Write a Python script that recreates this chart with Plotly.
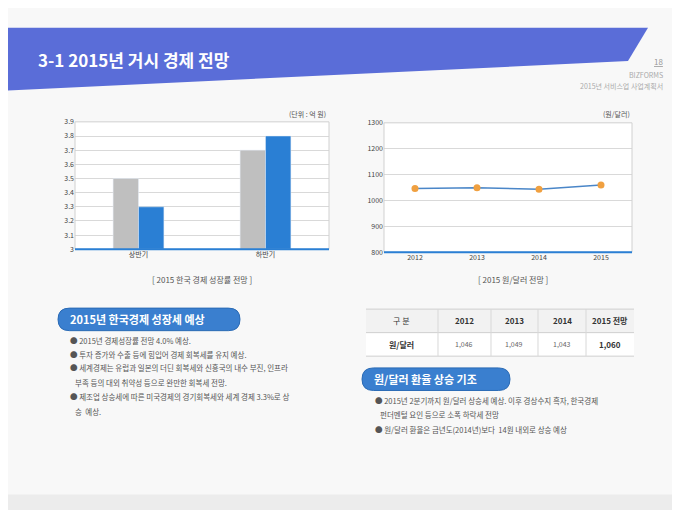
import plotly.graph_objects as go

W, H = 680, 510
FONT = "Noto Sans CJK KR"

halves = ["상반기", "하반기"]
growth_prev = [3.5, 3.7]
growth_new = [3.3, 3.8]

years = ["2012", "2013", "2014", "2015"]
krw_usd = [1046, 1049, 1043, 1060]
table_header = ["구 분", "2012", "2013", "2014", "2015 전망"]
table_row = ["원/달러", "1,046", "1,049", "1,043", "1,060"]

left_bullets = [
    ("● 2015년 경제성장률 전망 4.0% 예상.", 333),
    ("● 투자 증가와 수출 등에 힘입어 경제 회복세를 유지 예상.", 347),
    ("● 세계경제는 유럽과 일본의 더딘 회복세와 신흥국의 내수 부진, 인프라", 361),
    ("   부족 등의 대외 취약성 등으로 완만한 회복세 전망.", 376),
    ("● 제조업 상승세에 따른 미국경제의 경기회복세와 세계 경제 3.3%로 상", 390),
    ("   승  예상.", 405),
]
right_bullets = [
    ("● 2015년 2분기까지 원/달러 상승세 예상. 이후 경상수지 흑자, 한국경제", 394),
    ("   펀더멘털 요인 등으로 소폭 하락세 전망", 409),
    ("● 원/달러 환율은 금년도(2014년)보다  14원 내외로 상승 예상", 424),
]


def px_(x):
    return round(x / W, 5)


def py_(y):
    return round(1 - y / H, 5)


fig = go.Figure()

fig.add_trace(go.Bar(x=halves, y=growth_prev, marker_color="#bfbfbf", xaxis="x", yaxis="y", showlegend=False))
fig.add_trace(go.Bar(x=halves, y=growth_new, marker_color="#2a7fd4", xaxis="x", yaxis="y", showlegend=False))
fig.add_trace(go.Scatter(x=years, y=krw_usd, mode="lines+markers", xaxis="x2", yaxis="y2",
                         line=dict(color="#4a86c8", width=1.5),
                         marker=dict(color="#f0a040", size=7), showlegend=False))

axfont = dict(family=FONT, size=7, color="#444")
fig.update_layout(
    width=W, height=H, margin=dict(l=0, r=0, t=0, b=0),
    paper_bgcolor="#f8f8f8", plot_bgcolor="white",
    barmode="group", bargap=0.6, bargroupgap=0,
    xaxis=dict(domain=[px_(67), px_(321)], anchor="y", type="category", range=[-0.5, 1.5],
               tickfont=axfont, showline=False, ticks=""),
    yaxis=dict(domain=[py_(240), py_(110)], range=[3, 3.9], dtick=0.1, anchor="x",
               gridcolor="#d9d9d9", tickfont=axfont, zeroline=False, showline=False),
    xaxis2=dict(domain=[px_(376), px_(624)], anchor="y2", type="category", range=[-0.5, 3.5],
                tickfont=axfont, ticks=""),
    yaxis2=dict(domain=[py_(243), py_(111)], range=[800, 1300], dtick=100, anchor="x2",
                gridcolor="#d9d9d9", tickfont=axfont, zeroline=False),
)

shapes = [
    dict(type="rect", xref="paper", yref="paper", x0=0, x1=1, y0=0, y1=py_(490), fillcolor="#ececec", line_width=0),
    dict(type="path", xref="paper", yref="paper",
         path=f"M 0 {py_(14)} L {px_(640)} {py_(14)} L {px_(620)} {py_(48)} L 0 {py_(78)} Z",
         fillcolor="#5a6dd8", line_width=0),
    dict(type="rect", xref="paper", yref="paper", x0=px_(67), x1=px_(321), y0=py_(240), y1=py_(110),
         line=dict(color="#d0d0d0", width=1)),
    dict(type="rect", xref="paper", yref="paper", x0=px_(376), x1=px_(624), y0=py_(243), y1=py_(111),
         line=dict(color="#d0d0d0", width=1)),
    dict(type="line", xref="paper", yref="paper", x0=px_(67), x1=px_(321), y0=py_(240), y1=py_(240),
         line=dict(color="#2a7fd4", width=2)),
    dict(type="line", xref="paper", yref="paper", x0=px_(376), x1=px_(624), y0=py_(243), y1=py_(243),
         line=dict(color="#2a7fd4", width=2)),
]
annotations = []


def pill(x0, x1, y0, y1, text):
    r = (y1 - y0) / 2
    path = (f"M {px_(x0 + r)} {py_(y0)} L {px_(x1 - r)} {py_(y0)} "
            f"Q {px_(x1)} {py_(y0)} {px_(x1)} {py_(y0 + r)} Q {px_(x1)} {py_(y1)} {px_(x1 - r)} {py_(y1)} "
            f"L {px_(x0 + r)} {py_(y1)} Q {px_(x0)} {py_(y1)} {px_(x0)} {py_(y0 + r)} "
            f"Q {px_(x0)} {py_(y0)} {px_(x0 + r)} {py_(y0)} Z")
    shapes.append(dict(type="path", xref="paper", yref="paper", path=path,
                       fillcolor="#3a7fcf", line=dict(color="#2b6bb5", width=1)))
    note(x0 + 10, (y0 + y1) / 2, f"<b>{text}</b>", size=11, color="white")


def note(x, y, text, size=7, color="#555", anchor="left"):
    annotations.append(dict(xref="paper", yref="paper", x=px_(x), y=py_(y), text=text, showarrow=False,
                            xanchor=anchor, yanchor="middle", font=dict(family=FONT, size=size, color=color)))


pill(50, 232, 300, 323, "2015년 한국경제 성장세 예상")
pill(354, 502, 361, 384, "원/달러 환율 상승 기조")

# table drawn with shapes
col_x = [358, 430, 483, 530, 578, 626]
row_y = [301, 325, 349]
shapes.append(dict(type="rect", xref="paper", yref="paper", x0=px_(358), x1=px_(626), y0=py_(325), y1=py_(301),
                   fillcolor="#f2f2f2", line_width=0))
shapes.append(dict(type="rect", xref="paper", yref="paper", x0=px_(358), x1=px_(626), y0=py_(349), y1=py_(325),
                   fillcolor="white", line_width=0))
for y in row_y:
    shapes.append(dict(type="line", xref="paper", yref="paper", x0=px_(358), x1=px_(626), y0=py_(y), y1=py_(y),
                       line=dict(color="#cfcfcf", width=1)))
for x in col_x[1:-1]:
    shapes.append(dict(type="line", xref="paper", yref="paper", x0=px_(x), x1=px_(x), y0=py_(349), y1=py_(301),
                       line=dict(color="#d8d8d8", width=1)))
for i in range(5):
    cx = (col_x[i] + col_x[i + 1]) / 2
    note(cx, 313, f"<b>{table_header[i]}</b>" if i else table_header[i], size=8, color="#333", anchor="center")
    bold = i in (0, 4)
    note(cx, 337, f"<b>{table_row[i]}</b>" if bold else table_row[i], size=8 if bold else 7,
         color="#333" if bold else "#666", anchor="center")

note(28, 46, "<b>3-1 2015년 거시 경제 전망</b>", size=17, color="white")
note(657, 48, "<u>18</u>", size=8, color="#999", anchor="right")
note(657, 62, "BIZFORMS", size=7, color="#aaa", anchor="right")
note(657, 73, "2015년 서비스업 사업계획서", size=7, color="#aaa", anchor="right")
note(320, 102, "(단위 : 억 원)", anchor="right")
note(624, 102, "(원/달러)", anchor="right")
note(194, 271, "[ 2015 한국 경제 성장률 전망 ]", size=8, anchor="center")
note(505, 271, "[ 2015 원/달러 전망 ]", size=8, anchor="center")
for t, y in left_bullets:
    note(60, y, t, size=7.5)
for t, y in right_bullets:
    note(365, y, t, size=7.5)

fig.update_layout(shapes=shapes, annotations=annotations)
fig.write_html("out.html")
